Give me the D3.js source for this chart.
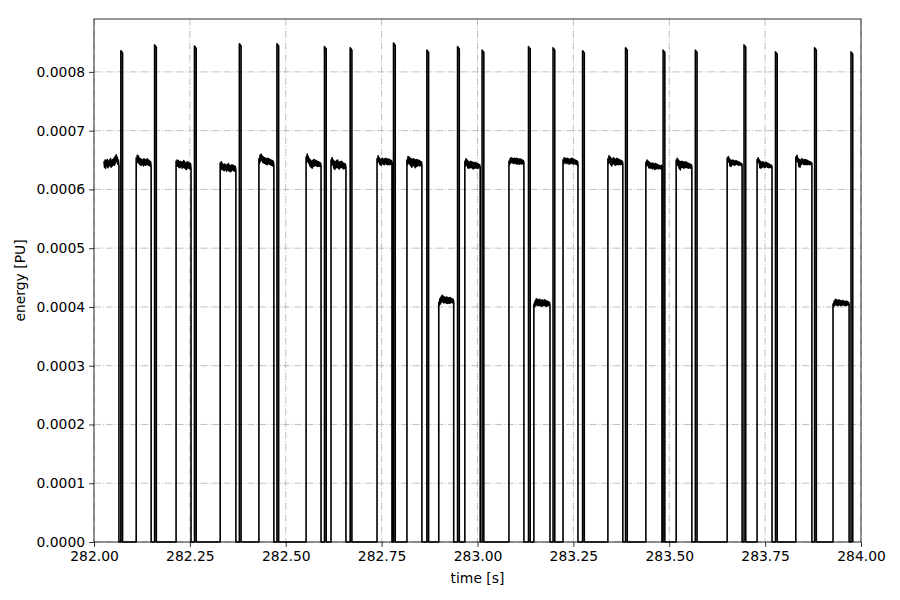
<!DOCTYPE html>
<html>
<head>
<meta charset="utf-8">
<script src="https://cdn.jsdelivr.net/npm/d3@7"></script>
<style>
  html, body { margin: 0; padding: 0; background: #fff; }
  svg text { font-family: "DejaVu Sans", sans-serif; }
</style>
</head>
<body>
<svg id="chart" width="900" height="600"></svg>
<script>
// ---- data ----
const xTicks = [282.00, 282.25, 282.50, 282.75, 283.00, 283.25, 283.50, 283.75, 284.00];
const yTicks = [0, 0.0001, 0.0002, 0.0003, 0.0004, 0.0005, 0.0006, 0.0007, 0.0008];

// plateau pulses: start / end time [s]
const plateauStart = [282.026, 282.110, 282.214, 282.329, 282.430, 282.553, 282.618, 282.738, 282.816, 282.899, 282.967,
                      283.082, 283.147, 283.223, 283.340, 283.439, 283.518, 283.651, 283.729, 283.830, 283.927];
const plateauEnd   = [282.065, 282.149, 282.253, 282.370, 282.469, 282.592, 282.657, 282.777, 282.855, 282.938, 283.007,
                      283.121, 283.189, 283.262, 283.379, 283.481, 283.559, 283.690, 283.768, 283.872, 283.969];
// plateau top samples (noisy), in micro-PU (1e-6 PU)
const plateauSamples = [
  [648,638,650,636,649,640,651,637,648,639,650,641,652,638,649,640,651,642,653,641,656,645,659,648,655,643,650,640],
  [654,645,658,647,657,644,653,642,652,641,651,643,650,640,652,642,651,641,650,643,652,642,650,641,649,640,647,639],
  [648,639,650,640,649,638,647,637,648,639,646,636,647,638,649,637,646,635,645,634,647,637,646,636,645,635,644,636],
  [645,636,647,634,644,633,642,632,643,634,641,631,642,633,644,632,641,630,640,631,642,633,641,632,640,631,639,632],
  [652,644,658,648,660,650,657,646,655,645,654,644,653,643,652,642,653,644,652,643,651,642,650,641,649,640,648,641],
  [655,646,660,648,656,644,652,640,650,638,648,636,649,639,651,640,650,641,649,640,648,639,647,640,646,639,645,640],
  [650,641,654,643,650,636,648,634,647,637,649,638,650,636,647,635,646,637,648,638,647,636,645,635,644,636,643,637],
  [652,645,657,648,654,643,651,641,652,644,653,643,651,642,652,644,653,643,651,642,652,643,651,642,650,643,649,644],
  [650,642,656,645,655,643,653,640,652,638,651,641,652,640,651,637,650,639,651,640,650,641,649,640,648,641,647,642],
  [408,403,414,405,417,408,420,409,418,407,417,408,416,407,417,406,416,407,415,406,416,407,415,408,414,407,413,408],
  [648,640,652,641,650,637,648,636,646,637,648,638,647,636,646,635,645,636,646,637,645,636,644,636,643,637,642,638],
  [648,642,652,645,654,646,653,645,652,644,653,645,652,644,653,643,652,644,651,643,652,644,651,643,650,644,649,645],
  [405,400,410,402,414,404,413,402,412,403,413,402,411,401,412,402,411,403,412,402,411,401,410,402,409,403,408,404],
  [650,643,654,646,653,645,652,644,653,645,652,643,651,644,652,645,653,644,652,643,651,644,650,643,649,642,648,643],
  [652,644,657,646,655,642,653,640,651,643,654,644,652,641,651,642,653,643,652,642,651,643,650,642,649,643,648,644],
  [646,640,650,641,648,637,646,636,645,637,644,635,645,636,643,634,644,635,643,636,642,635,641,636,640,635,641,637],
  [650,642,653,641,650,636,648,633,647,637,648,638,647,636,646,637,647,638,646,637,645,636,644,637,643,636,642,638],
  [653,646,656,647,653,640,650,639,649,642,650,643,649,641,648,642,649,643,648,642,647,641,646,642,645,641,644,642],
  [651,645,654,646,650,637,648,636,646,638,647,639,646,637,645,638,646,639,645,638,644,637,643,638,642,637,641,638],
  [655,647,658,647,653,639,651,638,650,642,652,644,651,643,650,642,651,643,650,642,649,643,648,642,647,643,646,644],
  [405,400,410,403,413,404,412,402,411,403,412,404,411,402,410,403,411,404,410,403,409,402,410,403,409,404,408,405]
];
// narrow spikes: start time [s] and peak [PU]
const spikeTime = [282.070, 282.158, 282.262, 282.379, 282.477, 282.601, 282.668, 282.781, 282.868, 282.948, 283.012,
                   283.133, 283.197, 283.274, 283.386, 283.484, 283.568, 283.695, 283.777, 283.879, 283.974];
const spikePeak = [0.000836, 0.000846, 0.000844, 0.000848, 0.000848, 0.000843, 0.000841, 0.000849, 0.000837, 0.000843, 0.000837,
                   0.000843, 0.000841, 0.000836, 0.000841, 0.000837, 0.000837, 0.000846, 0.000834, 0.000841, 0.000834];
const spikeWidth = 0.0045;

// ---- build the series ----
const events = [];
plateauStart.forEach((s, i) => events.push({type: "p", t: s, i}));
spikeTime.forEach((s, i) => events.push({type: "s", t: s, i}));
events.sort((a, b) => a.t - b.t);

const series = [];
events.forEach((e, k) => {
  if (e.type === "p") {
    const s = plateauStart[e.i], en = plateauEnd[e.i], vals = plateauSamples[e.i];
    if (k > 0) series.push([s, 0]);
    vals.forEach((v, j) => series.push([s + (en - s) * j / (vals.length - 1), v * 1e-6]));
    series.push([en, 0]);
  } else {
    const s = spikeTime[e.i], p = spikePeak[e.i];
    series.push([s, 0], [s, p], [s + spikeWidth, p - 0.000004], [s + spikeWidth, 0]);
  }
});

// ---- layout ----
const W = 900, H = 600;
const m = {left: 94, right: 39, top: 19, bottom: 58};
const iw = W - m.left - m.right, ih = H - m.top - m.bottom;

const svg = d3.select("#chart");
const g = svg.append("g").attr("transform", `translate(${m.left},${m.top})`);

const x = d3.scaleLinear().domain([282, 284]).range([0, iw]);
const y = d3.scaleLinear().domain([0, 0.00089]).range([ih, 0]);

// grid
const gridColor = "#b0b0b0";
g.append("g").selectAll("line").data(xTicks).join("line")
  .attr("x1", d => x(d)).attr("x2", d => x(d)).attr("y1", 0).attr("y2", ih)
  .attr("stroke", gridColor).attr("stroke-width", 0.8).attr("stroke-dasharray", "7.1,1.8,1.1,1.8");
g.append("g").selectAll("line").data(yTicks).join("line")
  .attr("x1", 0).attr("x2", iw).attr("y1", d => y(d)).attr("y2", d => y(d))
  .attr("stroke", gridColor).attr("stroke-width", 0.8).attr("stroke-dasharray", "7.1,1.8,1.1,1.8");

// line
const line = d3.line().x(d => x(d[0])).y(d => y(d[1]));
g.append("path").datum(series)
  .attr("d", line).attr("fill", "none").attr("stroke", "#000")
  .attr("stroke-width", 1.6).attr("stroke-linejoin", "round");

// axes
const fs = "13.9px";
const xAxis = d3.axisBottom(x).tickValues(xTicks).tickFormat(d3.format(".2f")).tickSize(4.9).tickPadding(4);
const yAxis = d3.axisLeft(y).tickValues(yTicks).tickFormat(d3.format(".4f")).tickSize(4.9).tickPadding(4);
const gx = g.append("g").attr("transform", `translate(0,${ih})`).call(xAxis);
const gy = g.append("g").call(yAxis);
[gx, gy].forEach(a => {
  a.select(".domain").remove();
  a.selectAll(".tick line").attr("stroke", "#000").attr("stroke-width", 0.8);
  a.selectAll(".tick text").attr("fill", "#000").style("font-size", fs).style("font-family", "DejaVu Sans");
});

// spines
g.append("rect").attr("x", 0).attr("y", 0).attr("width", iw).attr("height", ih)
  .attr("fill", "none").attr("stroke", "#000").attr("stroke-width", 0.8);

// labels
svg.append("text").attr("x", m.left + iw / 2).attr("y", 583)
  .attr("text-anchor", "middle").style("font-size", fs).text("time [s]");
svg.append("text").attr("transform", `translate(25,${m.top + ih / 2}) rotate(-90)`)
  .attr("text-anchor", "middle").style("font-size", fs).text("energy [PU]");
</script>
</body>
</html>
